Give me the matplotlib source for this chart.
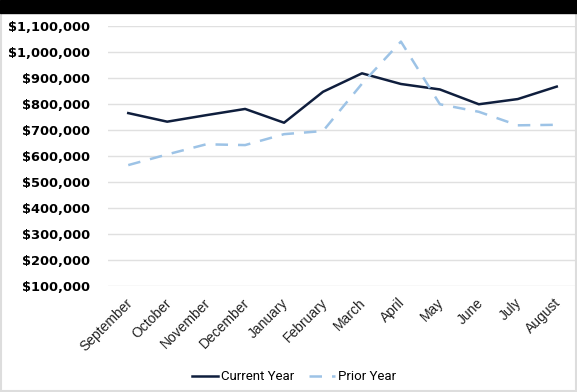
import matplotlib
matplotlib.use("Agg")
import matplotlib.pyplot as plt
import matplotlib.transforms as mtransforms
from matplotlib.patches import Rectangle
from matplotlib.ticker import FuncFormatter

months = ['September', 'October', 'November', 'December', 'January', 'February',
          'March', 'April', 'May', 'June', 'July', 'August']
current_year = [765000, 732000, 757000, 781000, 728000, 847000,
                918000, 877000, 856000, 799000, 819000, 867000]
prior_year = [565000, 606000, 645000, 642000, 684000, 696000,
              878000, 1040000, 799000, 770000, 718000, 720000]

fig = plt.figure(figsize=(5.77, 3.92), dpi=100)
ax = fig.add_axes([108 / 577, 1 - 286 / 392, 1 - 108 / 577, 260 / 392])

x = list(range(len(months)))
ax.plot(x, current_year, color='#0f1e3d', lw=1.8, label='Current Year')
ax.plot(x, prior_year, color='#9dc3e6', lw=1.8, ls=(0, (5, 4)), label='Prior Year')

ax.set_xlim(-0.52, 11.52)
ax.set_ylim(100000, 1100000)
ax.set_yticks(range(100000, 1100001, 100000))
ax.yaxis.set_major_formatter(FuncFormatter(lambda v, p: '${:,.0f}'.format(v)))
ax.grid(axis='y', color='#e0e0e0', lw=1)
ax.set_axisbelow(True)
for s in ax.spines.values():
    s.set_visible(False)
ax.tick_params(length=0)
ax.tick_params(axis='y', pad=13)
for lab in ax.get_yticklabels():
    lab.set_fontfamily('DejaVu Sans')
    lab.set_fontweight('bold')
    lab.set_fontsize(9.4)
    lab.set_color('#000000')

ax.set_xticks(x)
ax.set_xticklabels(months, rotation=45, ha='right', rotation_mode='anchor',
                   fontsize=10, family='Liberation Sans', color='#222222')
ax.tick_params(axis='x', pad=7)
shift = mtransforms.ScaledTranslation(-3 / 100, 0, fig.dpi_scale_trans)
for lab in ax.get_xticklabels():
    lab.set_transform(lab.get_transform() + shift)

leg = fig.legend(loc='center', bbox_to_anchor=(294 / 577, 1 - 377 / 392), ncol=2,
                 frameon=False, prop={'family': 'Roboto', 'size': 9.5},
                 handlelength=2.0, handletextpad=0.2, columnspacing=1.1)

# black band across the top and thin grey frame
fig.patches.append(Rectangle((0, 1 - 13 / 392), 1, 13 / 392, transform=fig.transFigure,
                             color='black', zorder=5))
fig.patches.append(Rectangle((0.002, 0.002), 0.996, 0.99, transform=fig.transFigure,
                             fill=False, edgecolor='#dddddd', lw=1.5, zorder=4))

fig.savefig('out.png', dpi=100)
